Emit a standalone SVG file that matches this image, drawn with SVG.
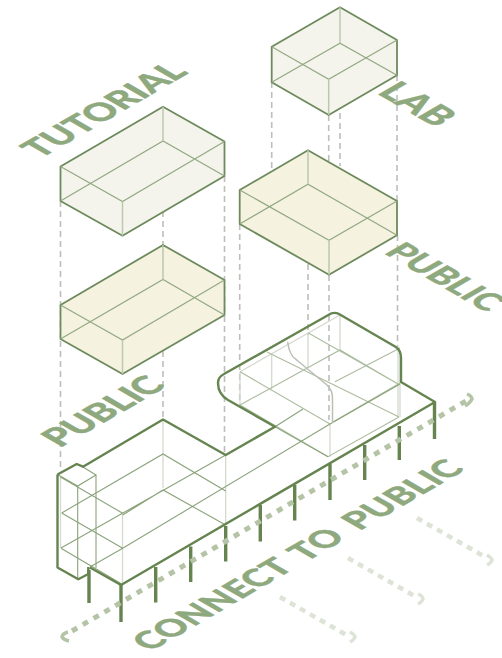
<svg xmlns="http://www.w3.org/2000/svg" width="502" height="658" viewBox="0 0 502 658">
<style>
.vol{stroke:#6d8a5c;stroke-width:1.8;stroke-linejoin:round}
.t{fill:#f4f4ec}.p{fill:#f5f2e0}
.in{fill:none;stroke:#93a983;stroke-width:1.2}
.ed{fill:none;stroke:#bcc8ae;stroke-width:1.5}
.dash{fill:none;stroke:#bcc0b8;stroke-width:1.6;stroke-dasharray:6 4}
.thick{fill:none;stroke:#65844f;stroke-width:2.4;stroke-linejoin:round}
.leg{fill:none;stroke:#65844f;stroke-width:3.4}
.w{fill:none;stroke:#adbca0;stroke-width:1.1}
.wd{fill:none;stroke:#8aa37a;stroke-width:1.1}
.wl{fill:none;stroke:#d5dacf;stroke-width:1.3}
.cv{fill:none;stroke:#bbbfb6;stroke-width:1.5}
.flow{fill:none;stroke:#b5c4a7;stroke-width:5;stroke-dasharray:6 6.5}
.flowl{fill:none;stroke:#dde3d6;stroke-width:4.5;stroke-dasharray:6 5.5}
.hd{fill:none;stroke:#b5c4a7;stroke-width:3.5}
.hdl{fill:none;stroke:#dde3d6;stroke-width:3.5}
.lab{font-family:"Lato","Open Sans",sans-serif;font-weight:900;fill:#8fa97f;stroke:#8fa97f;stroke-width:.5}
</style>
<g id="dashes">
<path class="dash" d="M60.5 201V470M163 141V420M224.5 176V456M271.7 82V206M340 43V166M328.7 115V240M397 75V201M239.7 224V405M308 184V335M329 275V420M397.5 235V350"/>
</g>
<g id="tutorial-box">
<path class="vol t" d="M60.5 166.5L163 106.7L224.5 141.5V176L122.5 235.7L60.5 201Z"/>
<path class="in" d="M60.5 166.5L122.5 201.5L224.5 141.5M60.5 201L163 141L224.5 176"/>
<path class="ed" d="M122.5 201.5V235.7M163 106.7V141"/>
</g>
<g id="public-box-left">
<path class="vol p" d="M60.5 305L163 245L224.5 280V315L122.5 374L60.5 339Z"/>
<path class="in" d="M60.5 305L122.5 340L224.5 280M60.5 339L163 279.5L224.5 315"/>
<path class="ed" d="M122.5 340V374M163 245V279.5"/>
</g>
<g id="lab-box">
<path class="vol t" d="M271.7 46.7L340 7.3L397 40V75.3L328.7 115L271.7 82.3Z"/>
<path class="in" d="M271.7 46.7L328.7 79.3L397 40M271.7 82.3L340 43.3L397 75.3"/>
<path class="ed" d="M328.7 79.3V115M340 7.3V43.3"/>
</g>
<g id="public-box-right">
<path class="vol p" d="M239.7 190L308 150.3L397 201V235.3L329 274.7L239.7 224Z"/>
<path class="in" d="M239.7 190L329 240.3L397 201M239.7 224L308 184.3L397 235.3"/>
<path class="ed" d="M329 240.3V274.7M308 150.3V184.3"/>
</g>
<g id="base">
<path class="wl" d="M60.5 478V548M163 420V488M225.7 455V525M122.5 514V585M240 372V405M271.7 355V389M308 333V367M340 315V350M398 350V417M400 350V417M330 424V457"/>
<path class="wl" stroke-width="1.1" d="M240 371.7L340 315"/>
<path class="w" d="M240 371.7L330 424M240 405L328 456.7L399 417M240 405L340 350L398 384M308 332.7L398 384M335 381.7L400 348M267 352L399 417M333 422L400 383"/>
<path class="wd" d="M60 476.7L122.7 513.3M61.7 513L163 454L225.7 491M61.7 513L122.7 548.3M61 548.3L121.7 584M61 548L225.7 455M122.7 515L163 490L225.7 525M90 567L122.7 548.3L330 424L400 384M303 409L275 426.7L328 456.7"/>
<path class="wd" d="M57.5 474.5L77.7 486L96 475L83 467M96 475V568M77.7 486V579"/>
<path class="cv" d="M287.7 341.7Q289 355 296.7 360L327 385Q332.5 390 332.5 398V423"/>
<path class="thick" d="M57.5 474.5L76.7 464L83 466.7L163 419.5L225.7 455L275 426.7L228 400Q218 394 218 383Q218 377 224 374L331 313.5Q335 312 339 314L395 346.5Q401 350 401 358V382L435 402L121 585L90 567.5M57.5 474.5V567.5L78.3 579.3L88.3 574V567"/>
<path class="leg" d="M89 570V603M121 585V622M155.7 567V602.5M190.7 546.5V582M225.7 526V561.5M260.3 505V541.5M294.7 485V520.5M330 464V500M364.7 445V480M399.3 426V460M434.5 402V439"/>
</g>
<g id="flows">
<path class="flow" d="M72 631L466 401"/>
<path class="hd" d="M68 632Q62 634 62 637Q64 640 69 641M467 394Q472 396 472 399Q470 403 465 406"/>
<path class="flowl" d="M280 597L350 637"/>
<path class="flowl" d="M348 558L418 598"/>
<path class="flowl" d="M417 518L487 558"/>
<path class="hdl" d="M350 632Q355 635 355 637Q354 640 350 642M418 594Q423 596 423 599Q422 602 418 604M487 555Q492 558 492 560Q491 563 487 565"/>
</g>
<g id="labels">
<text class="lab" font-size="35" transform="matrix(.866 -.5 .866 .5 40 159)">TUTORIAL</text>
<text class="lab" font-size="35" transform="matrix(.866 -.5 .866 .5 60 448)">PUBLIC</text>
<text class="lab" font-size="34" letter-spacing=".6" word-spacing="5" transform="matrix(.866 -.5 .866 .5 150 652)">CONNECT TO PUBLIC</text>
<text class="lab" font-size="37" transform="matrix(.866 .5 -.866 .5 376 93)">LAB</text>
<text class="lab" font-size="34" transform="matrix(.866 .5 -.866 .5 383 253)">PUBLIC</text>
</g>
</svg>
